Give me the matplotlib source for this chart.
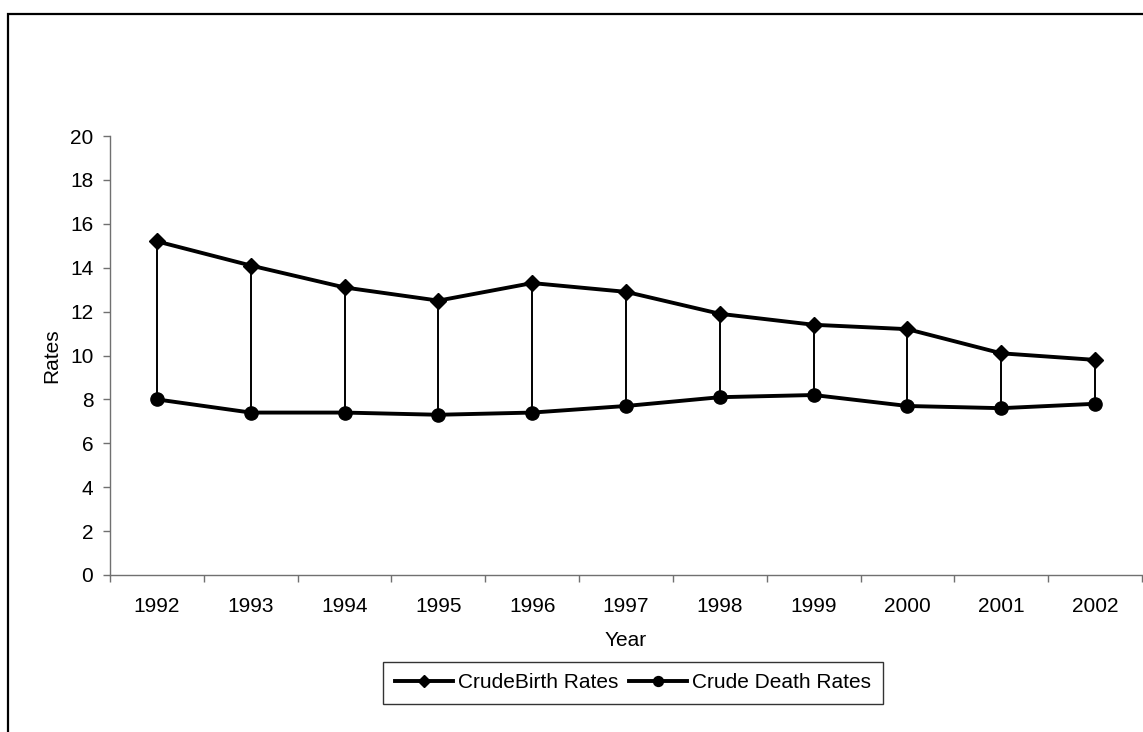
import matplotlib
matplotlib.use('Agg')
import matplotlib.pyplot as plt
from matplotlib.patches import Rectangle

plt.rcParams['font.family'] = ['Liberation Sans', 'DejaVu Sans']

years = ['1992', '1993', '1994', '1995', '1996', '1997', '1998', '1999', '2000', '2001', '2002']
birth_rates = [15.2, 14.1, 13.1, 12.5, 13.3, 12.9, 11.9, 11.4, 11.2, 10.1, 9.8]
death_rates = [8.0, 7.4, 7.4, 7.3, 7.4, 7.7, 8.1, 8.2, 7.7, 7.6, 7.8]

axis_grey = '#707070'
fs = 15

fig = plt.figure(figsize=(11.43, 7.32), dpi=100)
ax = fig.add_axes([110/1143, 1 - 575/732, 1032/1143, (575 - 136)/732])

x = list(range(len(years)))

# high-low lines between the two series
ax.vlines(x, death_rates, birth_rates, color='black', lw=1.4, zorder=2)
ax.plot(x, birth_rates, color='black', lw=2.8, marker='D', ms=8,
        mec='black', mfc='black', label='CrudeBirth Rates', zorder=3)
ax.plot(x, death_rates, color='black', lw=2.8, marker='o', ms=9.5,
        mec='black', mfc='black', label='Crude Death Rates', zorder=3)

ax.set_xlim(-0.5, len(years) - 0.5)
ax.set_ylim(0, 20)
ax.set_yticks(range(0, 21, 2))

ax.set_xticks(x)
ax.set_xticklabels(years)
ax.set_xticks([i - 0.5 for i in range(len(years) + 1)], minor=True)
ax.tick_params(axis='x', which='major', length=0, pad=16, labelsize=fs)
ax.tick_params(axis='x', which='minor', length=5, width=1, color=axis_grey, direction='out')
ax.tick_params(axis='y', length=5, width=1, color=axis_grey, pad=7, labelsize=fs)

for side in ['top', 'right']:
    ax.spines[side].set_visible(False)
for side in ['left', 'bottom']:
    ax.spines[side].set_color(axis_grey)
    ax.spines[side].set_linewidth(1)

ax.set_xlabel('Year', fontsize=fs, labelpad=11)
ax.set_ylabel('Rates', fontsize=fs, labelpad=6)

leg = fig.legend(loc='center', bbox_to_anchor=(633/1143, 1 - 683/732), ncol=2,
                 fontsize=fs, frameon=True, fancybox=False, edgecolor='black',
                 handlelength=2.8, columnspacing=0.5, handletextpad=0.25,
                 borderpad=0.55, borderaxespad=0, markerscale=0.75)
leg.get_frame().set_linewidth(1)

# outer chart border (cut off at right and bottom)
fig.patches.append(Rectangle((8/1143, -0.05), 1.1, 1 - 14/732 + 0.05,
                             transform=fig.transFigure, fill=False,
                             edgecolor='black', lw=1.6))

fig.savefig('out.png', dpi=100)
